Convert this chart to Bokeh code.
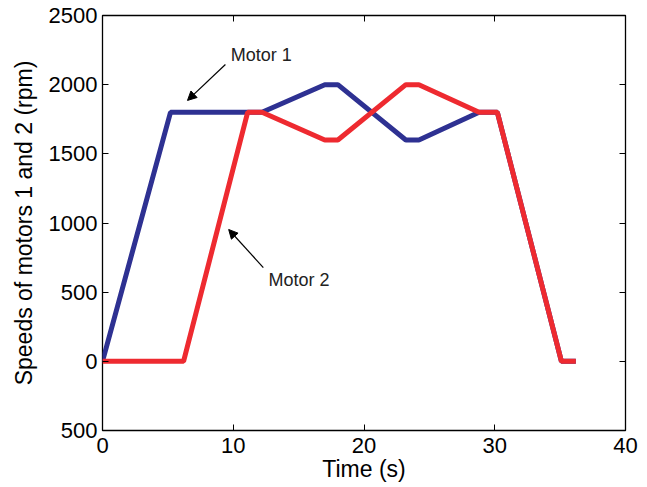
from bokeh.plotting import figure
from bokeh.models import LinearAxis, Range1d, Arrow, NormalHead, Label, FixedTicker, CustomLabelingPolicy
from bokeh.embed import file_html
from bokeh.resources import INLINE

# Motor 1 (blue)
t1 = [0, 5.2, 12.2, 17.0, 18.0, 23.2, 24.2, 28.8, 30.2, 35.1, 36.2]
m1 = [0, 1800, 1800, 2000, 2000, 1600, 1600, 1800, 1800, 0, 0]
# Motor 2 (red)
t2 = [0, 6.2, 11.1, 12.2, 17.0, 18.0, 23.2, 24.2, 28.8, 30.2, 35.1, 36.2]
m2 = [0, 0, 1800, 1800, 1600, 1600, 2000, 2000, 1800, 1800, 0, 0]

x_ticks = [0, 10, 20, 30, 40]
y_ticks = [-500, 0, 500, 1000, 1500, 2000, 2500]
y_tick_labels = {-500: "500", 0: "0", 500: "500", 1000: "1000", 1500: "1500", 2000: "2000", 2500: "2500"}

FONT = "Liberation Sans"

p = figure(frame_width=523, frame_height=415, output_backend="svg", toolbar_location=None,
           x_range=Range1d(0, 40), y_range=Range1d(-500, 2500),
           min_border_left=102, min_border_right=18, min_border_top=15, min_border_bottom=56)
p.background_fill_color = "white"
p.border_fill_color = "white"
p.outline_line_color = "black"
p.outline_line_width = 1.3
p.xgrid.visible = False
p.ygrid.visible = False

p.line(t1, m1, line_color="#2e3192", line_width=5)
p.line(t2, m2, line_color="#ee2a30", line_width=5)

for ax in p.xaxis:
    ax.ticker = FixedTicker(ticks=x_ticks)
    ax.axis_label = "Time (s)"
for ax in p.yaxis:
    ax.ticker = FixedTicker(ticks=y_ticks)
    ax.major_label_overrides = y_tick_labels
    ax.axis_label = "Speeds of motors 1 and 2 (rpm)"

for ax in p.xaxis + p.yaxis:
    ax.major_tick_in = 6
    ax.major_tick_out = 0
    ax.minor_tick_line_color = None
    ax.axis_line_color = None
    ax.major_tick_line_color = "black"
    ax.major_label_text_font = FONT
    ax.major_label_text_font_size = "22px"
    ax.major_label_text_color = "black"
    ax.axis_label_text_font = FONT
    ax.axis_label_text_font_size = "23px"
    ax.axis_label_text_font_style = "normal"
    ax.axis_label_text_color = "black"

for ax in p.yaxis:
    ax.major_label_standoff = 5
    ax.axis_label_standoff = 9
for ax in p.xaxis:
    ax.major_label_standoff = 7
    ax.axis_label_standoff = 0

hide = CustomLabelingPolicy(code="""
for (const i of Array.from(indices)) { indices.unset(i) }
return indices
""")
rax = LinearAxis(ticker=FixedTicker(ticks=y_ticks), major_tick_in=6, major_tick_out=0,
                 minor_tick_line_color=None, axis_line_color=None,
                 major_label_text_font_size="0px", major_label_standoff=0,
                 major_label_policy=hide)
tax = LinearAxis(ticker=FixedTicker(ticks=x_ticks), major_tick_in=6, major_tick_out=0,
                 minor_tick_line_color=None, axis_line_color=None,
                 major_label_text_font_size="0px", major_label_standoff=0,
                 major_label_policy=hide)
p.add_layout(rax, "right")
p.add_layout(tax, "above")

p.add_layout(Arrow(end=NormalHead(size=9, fill_color="black", line_color="black"),
                   x_start=9.4, y_start=2146, x_end=6.5, y_end=1886,
                   line_color="black", line_width=1.2))
p.add_layout(Arrow(end=NormalHead(size=9, fill_color="black", line_color="black"),
                   x_start=12.3, y_start=678, x_end=9.65, y_end=953,
                   line_color="black", line_width=1.2))
p.add_layout(Label(x=9.8, y=2211, text="Motor 1", text_font=FONT, text_font_size="18px",
                   text_baseline="middle", text_color="#222222"))
p.add_layout(Label(x=12.7, y=591, text="Motor 2", text_font=FONT, text_font_size="18px",
                   text_baseline="middle", text_color="#222222"))

open("out.html", "w").write(file_html(p, INLINE))
